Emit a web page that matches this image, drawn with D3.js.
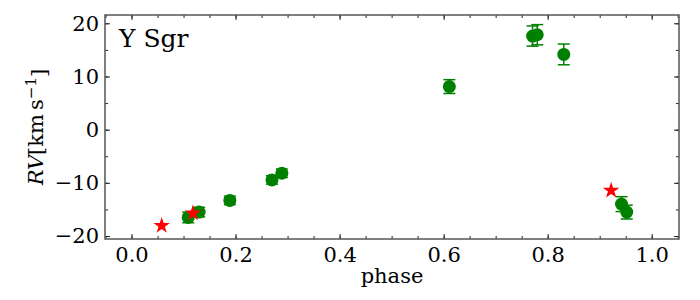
<!DOCTYPE html>
<html>
<head>
<meta charset="utf-8">
<script src="https://cdn.jsdelivr.net/npm/d3@7"></script>
<style>
  body { margin: 0; background: #fff; }
  text { font-family: "DejaVu Serif", serif; }
</style>
</head>
<body>
<div id="chart"></div>
<script>
var width = 700;
var height = 300;
var margin = { top: 15, right: 21, bottom: 61, left: 105 };
var plotW = width - margin.left - margin.right;
var plotH = height - margin.top - margin.bottom;

// measured RVs (green, with errors)
var phaseObs = [0.109, 0.130, 0.189, 0.270, 0.289, 0.611, 0.771, 0.780, 0.831, 0.942, 0.952];
var rvObs = [-16.5, -15.5, -13.3, -9.45, -8.2, 8.1, 17.6, 17.85, 14.15, -14.0, -15.5];
var rvErr = [1.0, 0.9, 0.8, 0.8, 0.8, 1.3, 1.9, 1.9, 1.95, 1.4, 1.3];

// literature values (red stars)
var phaseLit = [0.058, 0.118, 0.922];
var rvLit = [-18.05, -15.7, -11.45];

var xTicks = [0.0, 0.2, 0.4, 0.6, 0.8, 1.0];
var xMinor = d3.range(-0.05, 1.051, 0.05);
var yTicks = [-20, -10, 0, 10, 20];
var yMinor = [-20, -15, -10, -5, 0, 5, 10, 15, 20];

const svg = d3
  .select("#chart")
  .append("svg")
  .attr("width", width)
  .attr("height", height)
  .append("g")
  .attr("transform", `translate(${margin.left},${margin.top})`);

const xScale = d3.scaleLinear().domain([-0.051, 1.0525]).range([0, plotW]);
const yScale = d3.scaleLinear().domain([-20.56, 21.56]).range([plotH, 0]);

// ticks, all pointing inward, on every side
function addAxis(axis, transform) {
  const g = svg.append("g").attr("transform", transform).call(axis);
  g.select(".domain").remove();
  g.selectAll("line").attr("stroke", "#222").attr("stroke-width", 1);
  g.selectAll("text")
    .style("font-family", "DejaVu Serif")
    .style("font-size", "21px")
    .attr("fill", "#000");
  return g;
}

var fmtX = d3.format(".1f");
var fmtY = d3.format("d");

addAxis(d3.axisBottom(xScale).tickValues(xMinor).tickSize(-3).tickFormat(""), `translate(0,${plotH})`);
addAxis(d3.axisBottom(xScale).tickValues(xTicks).tickSize(-5).tickPadding(8).tickFormat(fmtX), `translate(0,${plotH})`);
addAxis(d3.axisTop(xScale).tickValues(xMinor).tickSize(-3).tickFormat(""), "translate(0,0)");
addAxis(d3.axisTop(xScale).tickValues(xTicks).tickSize(-5).tickFormat(""), "translate(0,0)");

addAxis(d3.axisLeft(yScale).tickValues(yMinor).tickSize(-3).tickFormat(""), "translate(0,0)");
addAxis(d3.axisLeft(yScale).tickValues(yTicks).tickSize(-5).tickPadding(6).tickFormat(fmtY), "translate(0,0)");
addAxis(d3.axisRight(yScale).tickValues(yMinor).tickSize(-3).tickFormat(""), `translate(${plotW},0)`);
addAxis(d3.axisRight(yScale).tickValues(yTicks).tickSize(-5).tickFormat(""), `translate(${plotW},0)`);

// frame
svg
  .append("rect")
  .attr("x", 0)
  .attr("y", 0)
  .attr("width", plotW)
  .attr("height", plotH)
  .attr("fill", "none")
  .attr("stroke", "#555")
  .attr("stroke-width", 1.5);

var obs = phaseObs.map((p, i) => ({ phase: p, rv: rvObs[i], err: rvErr[i] }));
var lit = phaseLit.map((p, i) => ({ phase: p, rv: rvLit[i] }));

var green = "#008000";

// error bars
const eb = svg.selectAll(".eb").data(obs).enter().append("g").attr("class", "eb");
eb.append("line")
  .attr("x1", (d) => xScale(d.phase))
  .attr("x2", (d) => xScale(d.phase))
  .attr("y1", (d) => yScale(d.rv - d.err))
  .attr("y2", (d) => yScale(d.rv + d.err))
  .attr("stroke", green)
  .attr("stroke-width", 1.5);
[-1, 1].forEach(function (s) {
  eb.append("line")
    .attr("x1", (d) => xScale(d.phase) - 6)
    .attr("x2", (d) => xScale(d.phase) + 6)
    .attr("y1", (d) => yScale(d.rv + s * d.err))
    .attr("y2", (d) => yScale(d.rv + s * d.err))
    .attr("stroke", green)
    .attr("stroke-width", 1.5);
});

svg
  .selectAll(".obs")
  .data(obs)
  .enter()
  .append("circle")
  .attr("class", "obs")
  .attr("cx", (d) => xScale(d.phase))
  .attr("cy", (d) => yScale(d.rv))
  .attr("r", 6.5)
  .attr("fill", green);

svg
  .selectAll(".lit")
  .data(lit)
  .enter()
  .append("path")
  .attr("class", "lit")
  .attr("d", d3.symbol().type(d3.symbolStar).size(85))
  .attr("transform", (d) => `translate(${xScale(d.phase)},${yScale(d.rv)})`)
  .attr("fill", "#ff0000");

// labels
svg
  .append("text")
  .attr("x", 14)
  .attr("y", 32)
  .style("font-size", "25px")
  .text("Y Sgr");

svg
  .append("text")
  .attr("x", plotW / 2)
  .attr("y", plotH + 44)
  .style("font-size", "21px")
  .style("text-anchor", "middle")
  .text("phase");

const yl = svg
  .append("text")
  .attr("transform", `translate(${43 - margin.left},${plotH / 2}) rotate(-90)`)
  .style("font-size", "21px")
  .style("text-anchor", "middle");
yl.append("tspan").style("font-style", "italic").text("RV");
yl.append("tspan").text("[km\u2009s");
yl.append("tspan").attr("dy", "-0.45em").style("font-size", "15px").text("\u22121");
yl.append("tspan").attr("dy", "0.45em").text("]");
</script>
</body>
</html>
